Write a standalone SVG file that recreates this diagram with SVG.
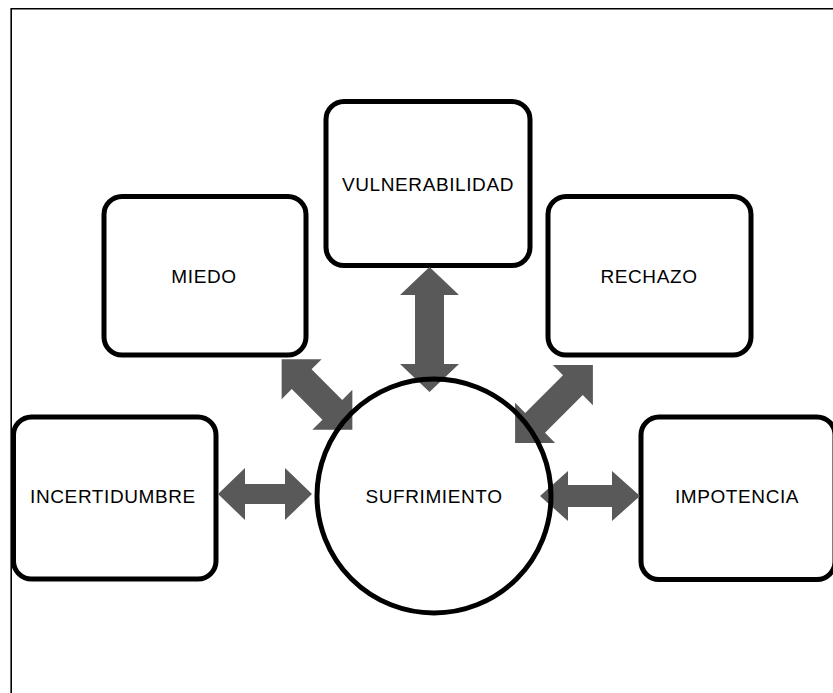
<svg xmlns="http://www.w3.org/2000/svg" width="833" height="693" viewBox="0 0 833 693">
<style>
.box{fill:#fff;stroke:#000;stroke-width:5}
.ring{fill:none;stroke:#000;stroke-width:5}
.lbl{font-family:"Liberation Sans",Arial,sans-serif;font-size:19px;letter-spacing:0.6px;fill:#000;text-anchor:middle;dominant-baseline:central}
.arr{fill:#595959;stroke:none}
</style>
<rect width="833" height="693" fill="#fff"/>
<path d="M11.2 693 V8.7 H833" fill="none" stroke="#000" stroke-width="1.6"/>
<g id="vulnerabilidad"><rect class="box" x="326" y="101.5" width="204" height="164" rx="18"/><text class="lbl" x="428" y="184">VULNERABILIDAD</text></g>
<g id="miedo"><rect class="box" x="104" y="196.5" width="202" height="158.5" rx="18"/><text class="lbl" x="204" y="276">MIEDO</text></g>
<g id="rechazo"><rect class="box" x="548" y="196.5" width="203" height="158.5" rx="18"/><text class="lbl" x="649" y="276">RECHAZO</text></g>
<g id="incertidumbre"><rect class="box" x="13.5" y="417" width="202.5" height="162" rx="18"/><text class="lbl" x="113" y="496">INCERTIDUMBRE</text></g>
<g id="impotencia"><rect class="box" x="641" y="417" width="194" height="162.5" rx="18"/><text class="lbl" x="737" y="496">IMPOTENCIA</text></g>
<g id="connectors">
<polygon class="arr" points="218,494 245,468 245,484 285,484 285,468 312,494 285,520 285,504 245,504 245,520"/>
<polygon class="arr" points="540,496 568,471 568,485 612,485 612,471 640,496 612,521 612,507 568,507 568,521"/>
<polygon class="arr" points="429.5,267 459,295 444,295 444,364 459,364 429.5,392 400,364 415,364 415,295 400,295"/>
<polygon class="arr" transform="translate(317 394.5) rotate(45)" points="-50,0 -21.7,-28.3 -21.7,-14 21.7,-14 21.7,-28.3 50,0 21.7,28.3 21.7,14 -21.7,14 -21.7,28.3"/>
<polygon class="arr" transform="translate(554 404) rotate(-45)" points="-55,0 -26.7,-28.3 -26.7,-14 26.7,-14 26.7,-28.3 55,0 26.7,28.3 26.7,14 -26.7,14 -26.7,28.3"/>
</g>
<g id="sufrimiento"><circle class="ring" cx="434" cy="496" r="117"/><text class="lbl" x="434" y="496">SUFRIMIENTO</text></g>
</svg>
